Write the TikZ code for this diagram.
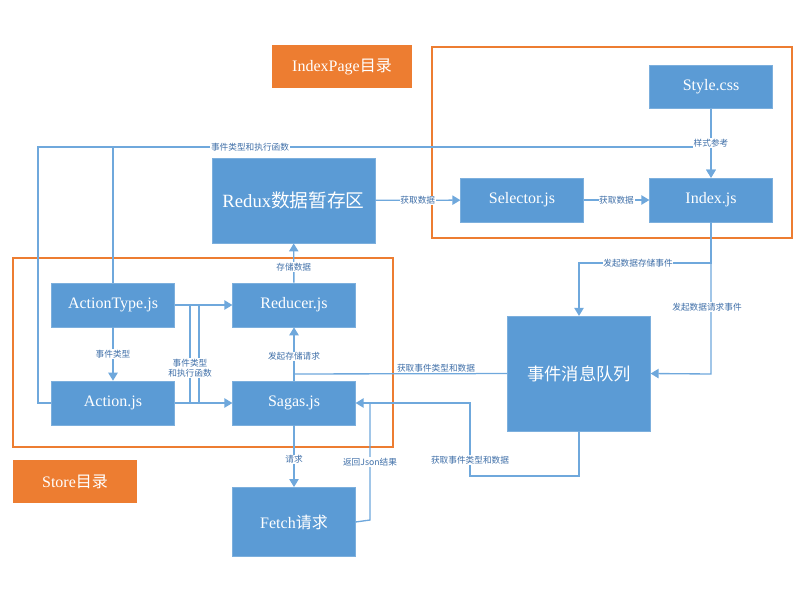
\documentclass[tikz,border=0pt]{standalone}
\usepackage{fontspec}
\setmainfont{Liberation Serif}
\newfontfamily\cjk{Noto Sans CJK SC}
\usetikzlibrary{arrows.meta}
\definecolor{bfill}{HTML}{5B9BD5}
\definecolor{bline}{HTML}{6FA8DC}
\definecolor{orng}{HTML}{ED7D31}
\definecolor{ltxt}{HTML}{3F6FA8}
\begin{document}
\begin{tikzpicture}[x=0.75pt,y=-0.75pt,
 box/.style={fill=bfill,draw=bfill!80!white,text=white,font=\fontsize{12}{14}\selectfont,inner sep=0pt},
 tag/.style={fill=orng,text=white,font=\fontsize{12}{14}\selectfont,inner sep=0pt},
 frame/.style={draw=orng,line width=1.3pt},
 con/.style={draw=bline,line width=1pt},
 arr/.style={con,-{Triangle[width=7pt,length=6pt]}},
 lab/.style={fill=white,text=ltxt,font=\cjk\fontsize{6.5}{7.5}\selectfont,inner sep=0.5pt,align=center}]
\useasboundingbox (0,0) rectangle (809,593);
\draw[frame] (432,47) rectangle (792,238);
\draw[frame] (13,258) rectangle (393,447);
\node[tag,minimum width=105pt,minimum height=32pt] (ip) at (342,66.5) {IndexPage{\cjk 目录}};
\node[tag,minimum width=93pt,minimum height=32pt] (st) at (75,481.5) {Store{\cjk 目录}};
\node[box,minimum width=92pt,minimum height=32pt] (css) at (711,87) {Style.css};
\node[box,minimum width=92pt,minimum height=33pt] (idx) at (711,200) {Index.js};
\node[box,minimum width=92pt,minimum height=33pt] (sel) at (522,200) {Selector.js};
\node[box,minimum width=122pt,minimum height=64pt,font=\fontsize{14}{16}\selectfont] (rdx) at (293.5,200.5) {Redux{\cjk 数据暂存区}};
\node[box,minimum width=92pt,minimum height=33pt] (at) at (113,305) {ActionType.js};
\node[box,minimum width=92pt,minimum height=33pt] (red) at (294,305) {Reducer.js};
\node[box,minimum width=92pt,minimum height=33pt] (act) at (113,403) {Action.js};
\node[box,minimum width=92pt,minimum height=33pt] (sag) at (294,403) {Sagas.js};
\node[box,minimum width=92pt,minimum height=52pt] (fet) at (294,522) {Fetch{\cjk 请求}};
\node[box,minimum width=107pt,minimum height=86pt,font=\cjk\fontsize{13}{15}\selectfont] (q) at (579,373.5) {事件消息队列};
\coordinate (c1) at (38,147); \coordinate (c2) at (711,147); \coordinate (c3) at (113,147);
\draw[arr] (act.west) -- (38,403) -- (c1) -- (c2) -- (idx.north);
\draw[con] (at.north) -- (c3);
\node[lab] at (250,147) {事件类型和执行函数};
\draw[arr] (css) -- node[lab]{样式参考} (idx);
\draw[arr] (rdx) -- node[lab]{获取数据} (sel);
\draw[arr] (sel) -- node[lab]{获取数据} (idx);
\coordinate (d1) at (711,263);
\draw[arr] (idx.south) -- (d1) -- (579,263) -- (q.north);
\node[lab] at (638,263) {发起数据存储事件};
\draw[arr] (d1) -- (711,374) -- (q.east);
\node[lab] at (707,307) {发起数据请求事件};
\draw[con] (q.west) -- (294,374);
\node[lab] at (436,368) {获取事件类型和数据};
\draw[arr] (sag) -- node[lab,pos=0.45]{发起存储请求} (red);
\draw[arr] (red) -- node[lab,pos=0.4]{存储数据} (rdx);
\draw[arr] (at) -- (red);
\draw[arr] (act) -- (sag);
\draw[con] (190,305) -- (190,403) (199,305) -- (199,403);
\node[lab] at (190,368) {事件类型\\和执行函数};
\draw[arr] (at) -- node[lab,pos=0.5]{事件类型} (act);
\draw[arr] (q.south) -- (579,476) -- (470,476) -- (470,403) -- (sag.east);
\node[lab] at (470,460) {获取事件类型和数据};
\draw[con] (fet.east) -- (370,520) -- (370,403);
\node[lab] at (370,462) {返回Json结果};
\draw[arr] (sag) -- node[lab,pos=0.55]{请求} (fet);
\end{tikzpicture}
\end{document}
